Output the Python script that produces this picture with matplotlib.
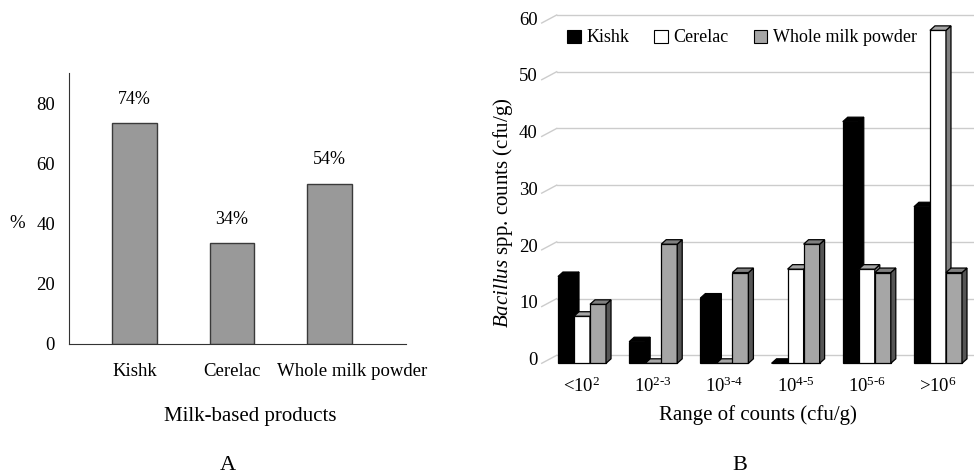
import matplotlib
matplotlib.use('Agg')
import matplotlib.pyplot as plt
import matplotlib.transforms as mtransforms
from matplotlib.patches import Polygon, Patch

plt.rcParams['font.family'] = ['Liberation Serif', 'DejaVu Serif']
plt.rcParams['mathtext.fontset'] = 'custom'
plt.rcParams['mathtext.rm'] = 'Liberation Serif'
plt.rcParams['mathtext.it'] = 'Liberation Serif:italic'

# panel A data
products = ['Kishk', 'Cerelac', 'Whole milk powder']
pct_values = [73.3, 33.6, 53.3]
pct_labels = ['74%', '34%', '54%']

# panel B data
ranges = [r'<10$^{2}$', r'10$^{2\text{-}3}$', r'10$^{3\text{-}4}$',
          r'10$^{4\text{-}5}$', r'10$^{5\text{-}6}$', r'>10$^{6}$']
kishk = [15.3, 3.8, 11.5, 0, 42.6, 27.6]
cerelac = [8.3, 0, 0, 16.6, 16.6, 58.7]
wmp = [10.4, 21.0, 16.0, 21.0, 16.0, 16.0]

W, H = 974, 476
fig = plt.figure(figsize=(W / 100, H / 100), dpi=100)

# ---------- panel A ----------
axA = fig.add_axes([69 / W, 1 - 344 / H, 337 / W, 271 / H])
xa = list(range(len(products)))
axA.bar(xa, pct_values, width=0.46, color='#999999', edgecolor='#3a3a3a', linewidth=1.0)
for x, v, lab in zip(xa, pct_values, pct_labels):
    axA.annotate(lab, (x, v), xytext=(0, 17), textcoords='offset points',
                 ha='center', va='center', fontsize=13)
axA.set_xlim(-0.672, 2.785)
axA.set_ylim(0, 90)
axA.set_yticks([0, 20, 40, 60, 80])
axA.set_xticks(xa)
axA.set_xticklabels(products)
axA.tick_params(axis='y', length=0, pad=10, labelsize=13.5)
axA.tick_params(axis='x', length=0, pad=14, labelsize=13.5)
# last label is pushed right like in the original
lab3 = axA.get_xticklabels()[2]
lab3.set_transform(lab3.get_transform() +
                   mtransforms.ScaledTranslation(23 / 100, 0, fig.dpi_scale_trans))
for s in ['top', 'right']:
    axA.spines[s].set_visible(False)
axA.spines['left'].set_color('#333333')
axA.spines['bottom'].set_color('#333333')
fig.text(17 / W, 1 - 223 / H, '%', ha='center', va='center', fontsize=13.5)
fig.text(250 / W, 1 - 416 / H, 'Milk-based products', ha='center', va='center', fontsize=15)
fig.text(228 / W, 1 - 466 / H, 'A', ha='center', va='center', fontsize=16)

# ---------- panel B ----------
left, bottom, top = 541.7, 363.3, 23.0
axB = fig.add_axes([left / W, 1 - bottom / H, (W - left) / W, (bottom - top) / H])
xmin, xmax = -0.566, 5.506
axB.set_xlim(xmin, xmax)
axB.set_ylim(0, 60)
axB.axis('off')
px_x = (xmax - xmin) / (W - left)
px_y = 60 / (bottom - top)

# back wall grid lines and the depth diagonals
gdx, gdy = 15 * px_x, 8 * px_y
for v in range(0, 61, 10):
    axB.plot([xmin + gdx, xmax + 1], [v + gdy, v + gdy], color='#cccccc', lw=1.0,
             clip_on=False, zorder=1)
    axB.plot([xmin, xmin + gdx], [v, v + gdy], color='#cccccc', lw=1.0,
             clip_on=False, zorder=1)
    axB.text(xmin - 4 * px_x, v + 0.5, str(v), ha='right', va='center', fontsize=13.5)

series = [kishk, cerelac, wmp]
front_c = ['#000000', '#ffffff', '#a6a6a6']
side_c = ['#000000', '#7f7f7f', '#555555']
top_c = ['#000000', '#a6a6a6', '#808080']
bw = 0.225
bdx, bdy = 5 * px_x, 4.5 * px_y
z = 2
for j in range(len(ranges)):
    for i, vals in enumerate(series):
        h = vals[j]
        x0 = j + (i - 1) * bw - bw / 2
        x1 = x0 + bw
        axB.bar(x0, h, width=bw, align='edge', color=front_c[i], edgecolor='black',
                linewidth=0.9, zorder=z, clip_on=False)
        side = Polygon([(x1, 0), (x1, h), (x1 + bdx, h + bdy), (x1 + bdx, bdy)],
                       closed=True, facecolor=side_c[i], edgecolor='black', lw=0.9,
                       zorder=z, clip_on=False)
        topf = Polygon([(x0, h), (x1, h), (x1 + bdx, h + bdy), (x0 + bdx, h + bdy)],
                       closed=True, facecolor=top_c[i], edgecolor='black', lw=0.9,
                       zorder=z, clip_on=False)
        axB.add_patch(side)
        axB.add_patch(topf)
        z += 1

for j, lab in enumerate(ranges):
    axB.text(j, -4.0, lab, ha='center', va='center', fontsize=13.5)

handles = [Patch(facecolor=c, edgecolor='black', lw=0.8) for c in front_c]
fig.legend(handles, ['Kishk', 'Cerelac', 'Whole milk powder'], loc='center left',
           bbox_to_anchor=(560 / W, 1 - 38 / H), ncol=3, frameon=False, fontsize=13,
           handlelength=0.75, handleheight=0.75, handletextpad=0.3, columnspacing=1.4,
           borderaxespad=0)

fig.text(503 / W, 1 - 213 / H, r'$\it{Bacillus}$ spp. counts (cfu/g)', rotation=90,
         ha='center', va='center', fontsize=15)
fig.text(758 / W, 1 - 415 / H, 'Range of counts (cfu/g)', ha='center', va='center', fontsize=15)
fig.text(740 / W, 1 - 466 / H, 'B', ha='center', va='center', fontsize=16)

fig.savefig('out.png', dpi=100)
